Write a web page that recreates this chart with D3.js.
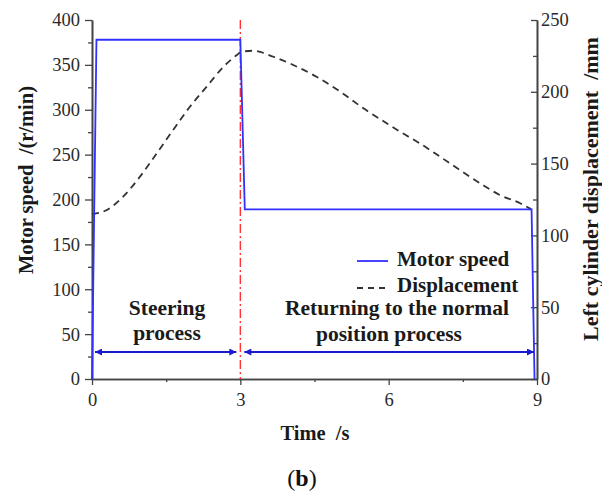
<!DOCTYPE html>
<html>
<head>
<meta charset="utf-8">
<script src="https://cdn.jsdelivr.net/npm/d3@7"></script>
<style>
  html, body { margin: 0; padding: 0; background: #fff; }
  svg { display: block; }
  svg text { font-family: "Liberation Serif", "Times New Roman", serif !important; }
</style>
</head>
<body>
<script>
// ---- data ----
const speedTime  = [0, 0.09, 3.0, 3.09, 8.89, 8.95];
const speedValue = [0, 378, 378, 189, 189, 0];

const dispTime  = [0, 0.30, 0.63, 0.97, 1.31, 1.64, 1.98, 2.32, 2.66, 2.93, 3.03, 3.26, 3.67, 4.07, 4.54, 5.02, 5.49, 5.96, 6.23, 6.63, 7.04, 7.44, 7.85, 8.25, 8.66, 8.88];
const dispValue = [114.7, 117.7, 127.0, 140.9, 157.2, 173.4, 189.6, 203.6, 217.5, 225.6, 227.9, 228.6, 224.4, 218.7, 210.5, 200.1, 188.5, 178.1, 172.2, 164.1, 154.8, 145.5, 136.3, 128.1, 122.4, 118.3];

const xTicks = [0, 3, 6, 9];
const xMinorTicks = [1.5, 4.5, 7.5];
const leftTicks = [0, 50, 100, 150, 200, 250, 300, 350, 400];
const rightTicks = [0, 50, 100, 150, 200, 250];
const dividerTime = 3;
const phases = [
  { label: ["Steering", "process"], start: 0, end: 3 },
  { label: ["Returning to the normal", "position process"], start: 3, end: 9 }
];
const legendItems = ["Motor speed", "Displacement"];

// ---- layout ----
const W = 602, H = 499;
const svg = d3.select("body").append("svg").attr("width", W).attr("height", H);

const x = d3.scaleLinear().domain([0, 9]).range([92, 537]);
const yL = d3.scaleLinear().domain([0, 400]).range([379, 20]);
const yR = d3.scaleLinear().domain([0, 250]).range([379, 20]);

const axisColor = "#444";
const tickFont = 18.5;

// left axis
const gL = svg.append("g").attr("transform", `translate(${x(0)},0)`);
gL.call(d3.axisLeft(yL).tickValues(leftTicks).tickSize(7).tickPadding(5).tickSizeOuter(0));
gL.append("g").call(d3.axisLeft(yL).tickValues(d3.range(25, 400, 50)).tickSize(4).tickFormat("").tickSizeOuter(0));

// right axis (ticks inward)
const gR = svg.append("g").attr("transform", `translate(${x(9)},0)`);
gR.call(d3.axisRight(yR).tickValues(rightTicks).tickSize(-6).tickPadding(4).tickSizeOuter(0));
gR.append("g").call(d3.axisRight(yR).tickValues(d3.range(25, 250, 50)).tickSize(-4).tickFormat("").tickSizeOuter(0));
gR.selectAll(".tick text").attr("x", 4);

// bottom axis
const gB = svg.append("g").attr("transform", `translate(0,${yL(0)})`);
gB.call(d3.axisBottom(x).tickValues(xTicks).tickSize(6).tickPadding(8).tickSizeOuter(0));
gB.append("g").call(d3.axisBottom(x).tickValues(xMinorTicks).tickSize(3).tickFormat("").tickSizeOuter(0));

[gL, gR, gB].forEach(g => g.attr("font-family", null).attr("font-size", null));
svg.selectAll(".domain").attr("stroke", axisColor).attr("stroke-width", 1.6);
svg.selectAll(".tick line").attr("stroke", axisColor).attr("stroke-width", 1.3);
svg.selectAll(".tick text").attr("font-size", tickFont).attr("fill", "#2a2a2a");

// divider
svg.append("line")
  .attr("x1", x(dividerTime)).attr("x2", x(dividerTime))
  .attr("y1", yL(400)).attr("y2", yL(0))
  .attr("stroke", "#ff3333").attr("stroke-width", 1.4)
  .attr("stroke-dasharray", "9,3,2,3");

// displacement
const dispLine = d3.line().x((d, i) => x(dispTime[i])).y(d => yR(d)).curve(d3.curveMonotoneX);
svg.append("path").attr("d", dispLine(dispValue))
  .attr("fill", "none").attr("stroke", "#333").attr("stroke-width", 1.8)
  .attr("stroke-dasharray", "7,5");

// motor speed
const speedLine = d3.line().x((d, i) => x(speedTime[i])).y(d => yL(d));
svg.append("path").attr("d", speedLine(speedValue))
  .attr("fill", "none").attr("stroke", "#3030ff").attr("stroke-width", 1.8);

// arrows
const defs = svg.append("defs");
["arrEnd", "arrStart"].forEach((id, k) => {
  defs.append("marker").attr("id", id)
    .attr("viewBox", "0 0 10 10").attr("refX", k === 0 ? 10 : 0).attr("refY", 5)
    .attr("markerWidth", 12).attr("markerHeight", 7).attr("markerUnits", "userSpaceOnUse")
    .attr("orient", "auto")
    .append("path").attr("d", k === 0 ? "M0,0 L10,5 L0,10 Z" : "M10,0 L0,5 L10,10 Z")
    .attr("fill", "#1a1ad0");
});
const arrowY = 352;
phases.forEach((p, i) => {
  svg.append("line")
    .attr("x1", x(p.start) + (i === 0 ? 3 : 4)).attr("x2", x(p.end) - (i === 0 ? 4 : 3))
    .attr("y1", arrowY).attr("y2", arrowY)
    .attr("stroke", "#1a1ad0").attr("stroke-width", 1.8)
    .attr("marker-start", "url(#arrStart)").attr("marker-end", "url(#arrEnd)");
});

// phase labels
const phaseLabelPos = [
  [{ cx: 167, y: 315 }, { cx: 167, y: 340 }],
  [{ cx: 397, y: 315 }, { cx: 389, y: 341 }]
];
phases.forEach((p, i) => {
  p.label.forEach((t, j) => {
    svg.append("text").attr("x", phaseLabelPos[i][j].cx).attr("y", phaseLabelPos[i][j].y)
      .attr("text-anchor", "middle").attr("font-size", 21.5).attr("font-weight", "bold")
      .attr("fill", "#1a1a1a").text(t);
  });
});

// legend
const lg = svg.append("g");
lg.append("line").attr("x1", 357).attr("x2", 388).attr("y1", 261).attr("y2", 261)
  .attr("stroke", "#3030ff").attr("stroke-width", 1.8);
lg.append("text").attr("x", 397).attr("y", 266).attr("font-size", 21).attr("font-weight", "bold")
  .attr("fill", "#1a1a1a").text(legendItems[0]);
lg.append("line").attr("x1", 357).attr("x2", 390).attr("y1", 288).attr("y2", 288)
  .attr("stroke", "#333").attr("stroke-width", 1.8).attr("stroke-dasharray", "6,5");
lg.append("text").attr("x", 397).attr("y", 292).attr("font-size", 21).attr("font-weight", "bold")
  .attr("fill", "#1a1a1a").text(legendItems[1]);

// axis titles
svg.append("text").attr("x", 315).attr("y", 440).attr("text-anchor", "middle")
  .attr("font-size", 20.5).attr("font-weight", "bold").attr("fill", "#1a1a1a")
  .style("white-space", "pre").text("Time  /s");

svg.append("text").attr("transform", "translate(33,180) rotate(-90)").attr("text-anchor", "middle")
  .attr("font-size", 20.5).attr("font-weight", "bold").attr("fill", "#1a1a1a")
  .style("white-space", "pre").text("Motor speed  /(r/min)");

svg.append("text").attr("transform", "translate(598,189) rotate(-90)").attr("text-anchor", "middle")
  .attr("font-size", 22).attr("font-weight", "bold").attr("fill", "#1a1a1a")
  .style("white-space", "pre").text("Left cylinder displacement  /mm");

// panel label
const pl = svg.append("text").attr("x", 302).attr("y", 486).attr("text-anchor", "middle")
  .attr("font-size", 24).attr("fill", "#111");
pl.append("tspan").text("(");
pl.append("tspan").attr("font-weight", "bold").text("b");
pl.append("tspan").text(")");
</script>
</body>
</html>
